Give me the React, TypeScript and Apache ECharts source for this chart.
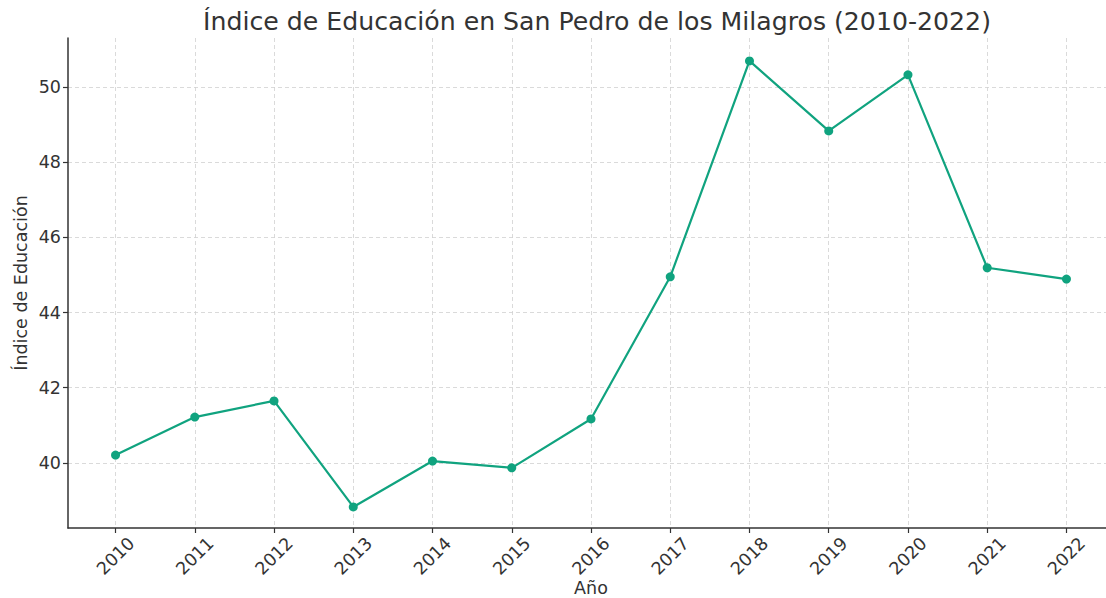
import React, { useEffect, useRef } from "react";
import * as echarts from "echarts";

const years = [2010, 2011, 2012, 2013, 2014, 2015, 2016, 2017, 2018, 2019, 2020, 2021, 2022];
const indexValues = [40.21, 41.22, 41.65, 38.83, 40.05, 39.87, 41.17, 44.95, 50.69, 48.83, 50.32, 45.19, 44.89];
const yTicks = [40, 42, 44, 46, 48, 50];
const titleText = "Índice de Educación en San Pedro de los Milagros (2010-2022)";
const xName = "Año";
const yName = "Índice de Educación";

export default function App() {
  const ref = useRef<HTMLDivElement>(null);
  useEffect(() => {
    if (!ref.current) return;
    const chart = echarts.init(ref.current, null, { renderer: "svg" });
    const font = "DejaVu Sans";
    const textColor = "#333333";
    chart.setOption({
      animation: false,
      backgroundColor: "#ffffff",
      textStyle: { fontFamily: font },
      title: {
        text: titleText,
        left: 592,
        textAlign: "center",
        top: 4,
        textStyle: { fontFamily: font, fontSize: 25.2, fontWeight: "normal", color: textColor },
      },
      grid: { left: 68, top: 38, width: 1046, height: 490, containLabel: false, outerBoundsMode: "none" },
      xAxis: {
        type: "value",
        min: 2009.4,
        max: 2022.6,
        name: xName,
        nameLocation: "middle",
        nameGap: 51,
        nameMoveOverlap: false,
        nameTextStyle: { fontFamily: font, fontSize: 17.5, color: textColor },
        axisLine: { show: true, onZero: false, lineStyle: { color: "#333333", width: 1.5 } },
        axisTick: { show: true, length: 5, customValues: years, lineStyle: { color: "#333333", width: 1.2 } },
        axisLabel: {
          customValues: years,
          rotate: 45,
          align: "center",
          verticalAlign: "middle",
          margin: 28,
          fontSize: 17.5,
          color: textColor,
          fontFamily: font,
          formatter: (v: number) => String(Math.round(v)),
        },
        splitLine: { show: true, lineStyle: { color: "#d0d0d0", type: [4, 3], width: 0.8 } },
      },
      yAxis: {
        type: "value",
        min: 38.27,
        max: 51.3,
        name: yName,
        nameLocation: "middle",
        nameGap: 38,
        nameMoveOverlap: false,
        nameTextStyle: { fontFamily: font, fontSize: 17.5, color: textColor },
        axisLine: { show: true, onZero: false, lineStyle: { color: "#333333", width: 1.5 } },
        axisTick: { show: true, length: 5, customValues: yTicks, lineStyle: { color: "#333333", width: 1.2 } },
        axisLabel: {
          customValues: yTicks,
          margin: 7,
          fontSize: 17.5,
          color: textColor,
          fontFamily: font,
        },
        splitLine: { show: true, lineStyle: { color: "#d0d0d0", type: [4, 3], width: 0.8 } },
      },
      series: [
        {
          type: "line",
          data: years.map((y, i) => [y, indexValues[i]]),
          symbol: "circle",
          symbolSize: 9,
          lineStyle: { color: "#10a37f", width: 2.2 },
          itemStyle: { color: "#10a37f" },
          clip: false,
        },
      ],
    });
    return () => chart.dispose();
  }, []);
  return (
    <div
      ref={ref}
      style={{ position: "fixed", left: 0, top: 0, width: 1106, height: 598 }}
    />
  );
}
